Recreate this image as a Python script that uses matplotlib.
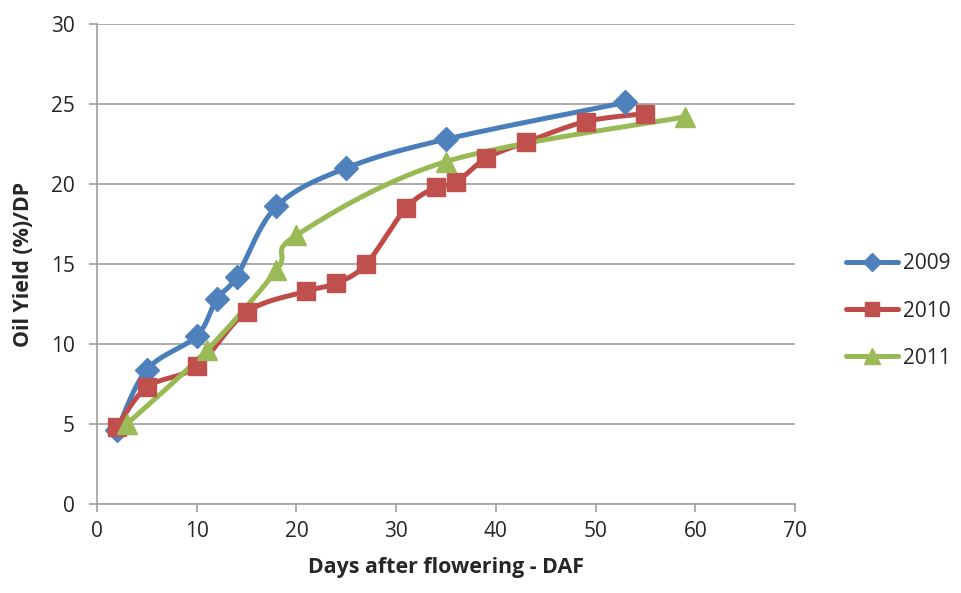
import numpy as np
import matplotlib
matplotlib.use("Agg")
import matplotlib.pyplot as plt

plt.rcParams['font.family'] = ['Open Sans', 'DejaVu Sans']

x2009 = [2, 5, 10, 12, 14, 18, 25, 35, 53]
y2009 = [4.6, 8.4, 10.5, 12.8, 14.2, 18.6, 21.0, 22.8, 25.1]
x2010 = [2, 5, 10, 15, 21, 24, 27, 31, 34, 36, 39, 43, 49, 55]
y2010 = [4.8, 7.3, 8.6, 12.0, 13.3, 13.8, 15.0, 18.5, 19.8, 20.1, 21.6, 22.6, 23.9, 24.4]
x2011 = [3, 11, 18, 20, 35, 59]
y2011 = [5.0, 9.6, 14.6, 16.8, 21.4, 24.2]

series = [
    ("2009", x2009, y2009, "#4A7EBB", "#4F81BD", "D", 12),
    ("2010", x2010, y2010, "#BE4B48", "#C0504D", "s", 13),
    ("2011", x2011, y2011, "#98B954", "#9BBB59", "^", 15),
]

fig = plt.figure(figsize=(9.62, 5.93), dpi=100)
ax = fig.add_axes([97/962, 1-504/593, (795-97)/962, (504-24)/593])
ax.set_xlim(0, 70)
ax.set_ylim(0, 30)


def smooth(xs, ys, n=30):
    # Catmull-Rom style smoothing in display space (like Excel smoothed lines)
    pts = ax.transData.transform(np.column_stack([xs, ys]))
    out = []
    m = len(pts)
    for i in range(m - 1):
        p0 = pts[i - 1] if i > 0 else pts[i]
        p1 = pts[i]
        p2 = pts[i + 1]
        p3 = pts[i + 2] if i + 2 < m else pts[i + 1]
        c1 = p1 + (p2 - p0) / 6.0
        c2 = p2 - (p3 - p1) / 6.0
        t = np.linspace(0, 1, n)[:, None]
        b = ((1 - t) ** 3) * p1 + 3 * ((1 - t) ** 2) * t * c1 + 3 * (1 - t) * t ** 2 * c2 + t ** 3 * p2
        out.append(b if i == 0 else b[1:])
    out = np.vstack(out)
    d = ax.transData.inverted().transform(out)
    return d[:, 0], d[:, 1]


handles = []
for name, xs, ys, lc, mc, mk, ms in series:
    sx, sy = smooth(xs, ys)
    ax.plot(sx, sy, color=lc, lw=3.6, solid_capstyle='round', zorder=3)
    ax.plot(xs, ys, linestyle='none', marker=mk, markersize=ms,
            markerfacecolor=mc, markeredgecolor=mc, zorder=4)
    h, = ax.plot([], [], color=lc, lw=3.6, marker=mk, markersize=ms,
                 markerfacecolor=mc, markeredgecolor=mc, solid_capstyle='round')
    handles.append((h, name))

ax.set_xticks(range(0, 71, 10))
ax.set_yticks(range(0, 31, 5))
ax.yaxis.grid(True, color='#A6A6A6', lw=1.3)
ax.set_axisbelow(True)
for s in ['top', 'right']:
    ax.spines[s].set_visible(False)
for s in ['left', 'bottom']:
    ax.spines[s].set_color('#A6A6A6')
    ax.spines[s].set_linewidth(1.3)
ax.tick_params(axis='both', direction='out', length=6, width=1.3, color='#A6A6A6',
               labelsize=15, labelcolor='#262626')
ax.tick_params(axis='y', pad=10)
ax.tick_params(axis='x', pad=6)

ax.set_xlabel("Days after flowering - DAF", fontsize=15.4, fontweight='bold',
              color='#262626', labelpad=11)
ax.set_ylabel("Oil Yield (%)/DP", fontsize=15.4, fontweight='bold',
              color='#262626', labelpad=12)

leg = fig.legend([h for h, _ in handles], [n for _, n in handles],
                 loc='center left', bbox_to_anchor=(846/962, 1-311/593),
                 frameon=False, fontsize=15, handlelength=2.5,
                 labelspacing=1.25, handletextpad=0.25, borderpad=0,
                 borderaxespad=0, markerscale=0.8)
for t in leg.get_texts():
    t.set_color('#262626')

fig.savefig("out.png", dpi=100)
